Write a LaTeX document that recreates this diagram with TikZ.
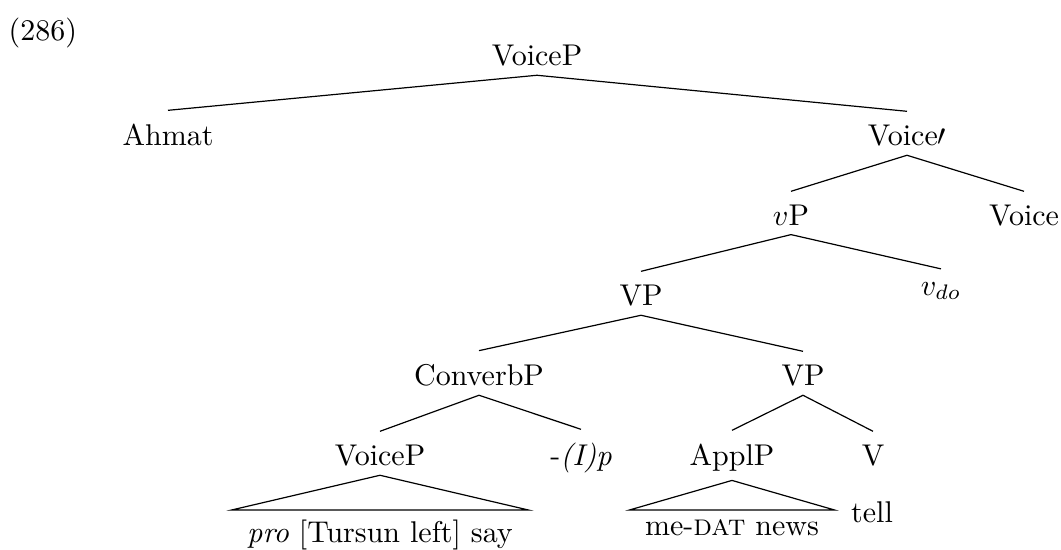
\documentclass[tikz,border=0pt]{standalone}
\begin{document}
\begin{tikzpicture}[ x=0.3333pt, y=-0.3333pt, cat/.style={ anchor=base, inner sep=3pt }, roof/.style={ anchor=north, inner xsep=5pt, inner ysep=3pt }, branch/.style={ thin } ]
\useasboundingbox (0,0) rectangle (1061,550);

% --- Numero esempio ---
\node[anchor=base west, inner sep=0pt] (exnum) at (8,40) {(286)};

% --- Nodi albero ---
\node[cat] (voiceP) at (537,65) {VoiceP};
\node[cat] (ahmat) at (168,145) {Ahmat};
\node[cat] (voiceBar) at (907,145) {Voice$\prime$};
\node[cat] (vP) at (791,225) {$v$P};
\node[cat] (voice) at (1024,225) {Voice};
\node[cat] (VP) at (641,305) {VP};
\node[cat] (vdo) at (941,295) {$v_{do}$};
\node[cat] (converbP) at (479,385) {ConverbP};
\node[cat] (VPlow) at (803,385) {VP};
\node[cat] (voicePlow) at (380,465) {VoiceP};
\node[cat] (converb) at (581,465) {-\textit{(I)p}};
\node[cat] (applP) at (732,465) {ApplP};
\node[cat] (verb) at (873,465) {V};

% --- Foglie ---
\node[roof] (proSay) at (380,510) {\textit{pro} [Tursun left] say};
\node[roof] (meNews) at (732,510) {me-\textsc{dat} news};
\node[cat] (tell) at (872,522) {tell};

% --- Rami ---
\draw[branch] (voiceP.south) -- ([yshift=1.2pt]ahmat.north); \draw[branch] (voiceP.south) -- ([yshift=1.2pt]voiceBar.north);
\draw[branch] (voiceBar.south) -- ([yshift=1.2pt]vP.north); \draw[branch] (voiceBar.south) -- ([yshift=1.2pt]voice.north);
\draw[branch] (vP.south) -- ([yshift=1.2pt]VP.north); \draw[branch] (vP.south) -- ([yshift=1.2pt]vdo.north);
\draw[branch] (VP.south) -- ([yshift=1.2pt]converbP.north); \draw[branch] (VP.south) -- ([yshift=1.2pt]VPlow.north);
\draw[branch] (converbP.south) -- ([yshift=1.2pt]voicePlow.north); \draw[branch] (converbP.south) -- ([yshift=1.2pt]converb.north);
\draw[branch] (VPlow.south) -- ([yshift=1.2pt]applP.north); \draw[branch] (VPlow.south) -- ([yshift=1.2pt]verb.north);

% --- Triangoli ---
\draw[branch] (voicePlow.south) -- (proSay.north west) -- (proSay.north east) -- cycle;
\draw[branch] (applP.south) -- (meNews.north west) -- (meNews.north east) -- cycle;
\end{tikzpicture}
\end{document}
